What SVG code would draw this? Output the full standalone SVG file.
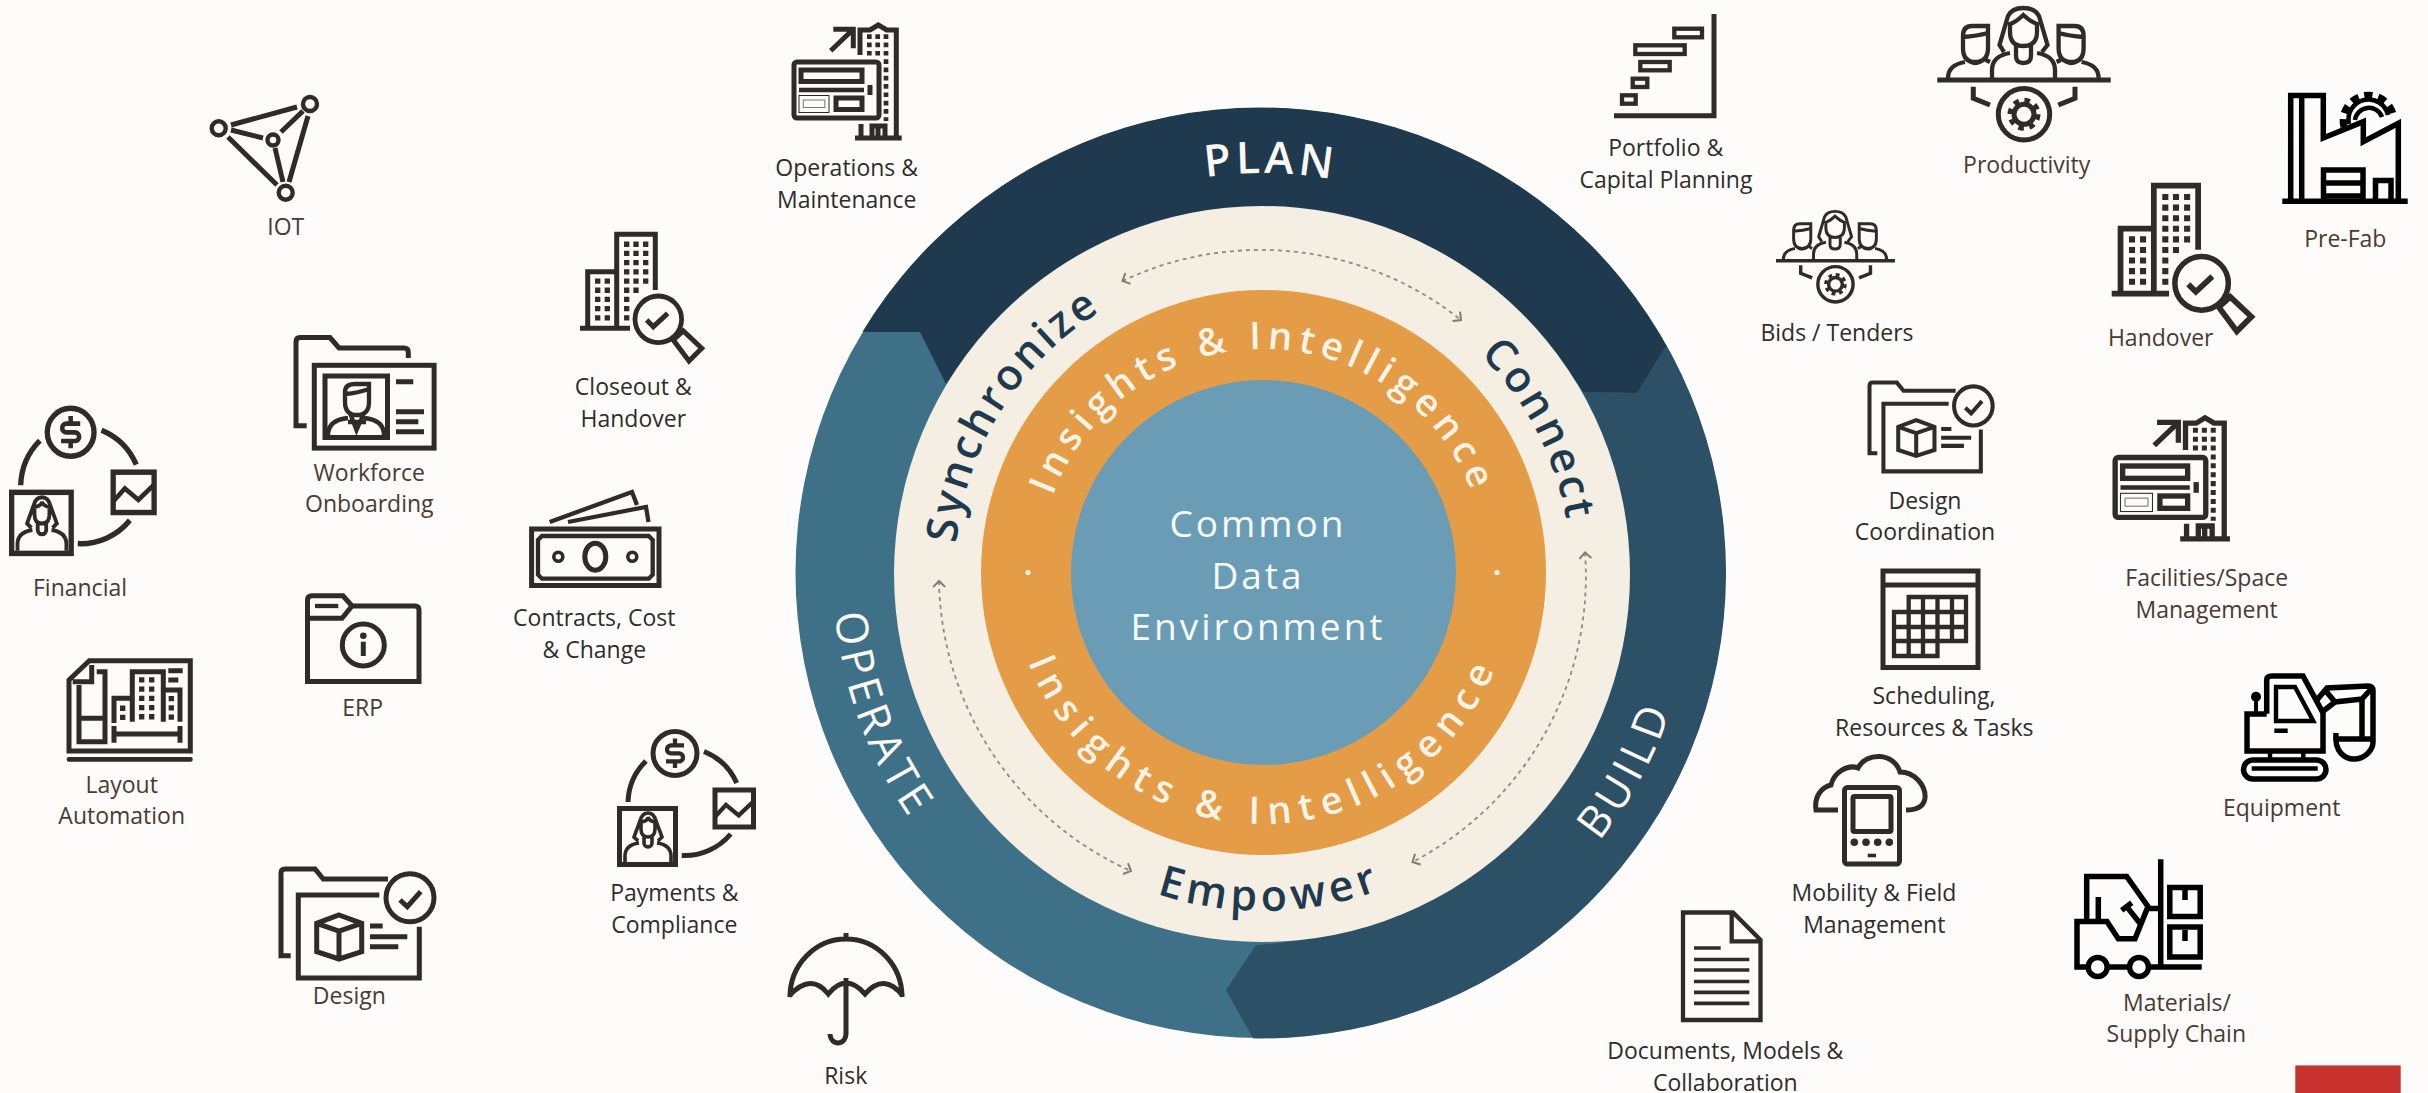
<svg xmlns="http://www.w3.org/2000/svg" xmlns:xlink="http://www.w3.org/1999/xlink" width="2428" height="1093" viewBox="0 0 2428 1093">
<style>
text{font-family:"Open Sans","Noto Sans","DejaVu Sans",sans-serif}
.l{font-size:23px;text-anchor:middle;fill:#2f2d2b}
.b{font-size:23px;text-anchor:middle;fill:#4a3a33}
.i{fill:none;stroke:#2e2b28;stroke-width:5;stroke-linejoin:miter}
.k{fill:none;stroke:#000;stroke-width:5.5}
.s{stroke-width:4.3}
.t{stroke-width:3.6}
.w{stroke-width:5.3;stroke-dasharray:5.3 3.9}
.f{fill:#2e2b28;stroke:none}
.phase{font-size:44px;fill:#fbf8f1;letter-spacing:5px}
.plan{font-size:44px;font-weight:600;fill:#fbf8f1;letter-spacing:4px}
.verb{font-size:43px;font-weight:600;fill:#1f3a4e;letter-spacing:3px}
.emp{font-size:43px;font-weight:600;fill:#1f3a4e;letter-spacing:5px}
.ins{font-size:38px;font-weight:600;fill:#fbf3e6;letter-spacing:6.2px}
.ins2{font-size:38px;font-weight:600;fill:#fbf3e6;letter-spacing:8.8px}
.cde{font-size:37px;fill:#f6fafb;text-anchor:middle;letter-spacing:3px}
.mid{text-anchor:middle}
.dash{fill:none;stroke:#8c8b85;stroke-width:1.8;stroke-dasharray:4 4;marker-start:url(#chev);marker-end:url(#chev)}
</style>
<defs>
<clipPath id="outer"><circle cx="1260.5" cy="573" r="465.5"/></clipPath>
<marker id="chev" markerUnits="userSpaceOnUse" markerWidth="16" markerHeight="16" refX="8" refY="8" orient="auto-start-reverse" viewBox="0 0 16 16"><path d="M2,2 L8,8 L2,14" fill="none" stroke="#7d7c76" stroke-width="2"/></marker>
<path id="pPlan" d="M863,573 A400,400 0 0 1 1663,573"/>
<path id="pVerbT" d="M955,573 A308,308 0 0 1 1571,573"/>
<path id="pInsT" d="M1039,573 A224,224 0 0 1 1487,573"/>
<path id="pInsB" d="M1012,573 A251,251 0 0 0 1514,573"/>
<path id="pEmp" d="M925,573 A338,338 0 0 0 1601,573"/>
<path id="pOuterB" d="M833,573 A430,430 0 0 0 1693,573"/>

<g id="pay">
<circle class="i" cx="58" cy="24.4" r="22"/>
<path class="i s" d="M67,16.4 H54 a4,4 0 0 0 0,8 H62 a4,4 0 0 1 0,8 H49 M58,9.5 V16 M58,33 V39"/>
<path class="i" d="M11,73 A60,60 0 0 1 29,32 M87,22.5 A60,60 0 0 1 119.7,54 M64.7,126.5 A60,60 0 0 0 113.7,105"/>
<rect class="i" x="2.5" y="79.5" width="56" height="56"/>
<rect class="i" x="98" y="61" width="38.5" height="37"/>
<path class="i s" d="M98.3,87.5 L109,75.9 L121.7,86.3 L136.4,72.5"/>
<path class="i t" d="M21,112 L17,108 L23,92 Q25,84 31,84 Q37,84 39,92 L45,108 L41,112 M24,93 Q31,92 31,88 Q32,92 38,93 V100 Q38,108 31,108 Q24,108 24,100 Z M27,108 V114 a4,4 0 0 0 8,0 V108 M8,133 V127 Q8,116 22,114 M54,133 V127 Q54,116 40,114"/>
</g>

<g id="design">
<path class="i" d="M290.7,955.7 H281 V873 Q281,869 285,869 H315 L323.3,879 H388"/>
<path class="i" d="M379.3,895 H298.3 V978 H419.3 V926.7"/>
<circle class="i" cx="410" cy="897.7" r="24"/>
<path class="i" stroke-width="5.5" d="M400,900 L407.3,906.7 L420.7,891.7"/>
<path class="i" d="M339,915 L361.7,923.3 V951.7 L339,959 L316.7,951.7 V923.3 Z M316.7,923.3 L339,931 L361.7,923.3 M339,931 V959"/>
<path class="i" d="M370,926 H382.7 M370,936.7 H407.3 M370,946.7 H398.3"/>
</g>

<g id="ops">
<path class="i" d="M860,55 V30 H870 L878.3,25 L886.7,30 H896.3 V138"/>
<path class="i" d="M855,138 H901.7 M861,124 V138 M872,138 V126 H885 V138 M878,128 V138"/>
<path class="i w" style="stroke-width:4.7;stroke-dasharray:4.7 3.6" d="M869.3,34.3 V57 M877.7,34.3 V57 M886,34.3 V121"/>
<rect class="i" x="794" y="62" width="85" height="56" rx="3"/>
<rect class="i" x="801" y="70" width="61" height="11.5"/>
<path class="i s" d="M799,90 H864"/>
<path class="i" d="M870,85 V95"/>
<rect x="799" y="95.5" width="30" height="17" fill="none" stroke="#2e2b28" stroke-width="1"/>
<rect x="803.3" y="100" width="21.5" height="7.5" fill="none" stroke="#777" stroke-width="1"/>
<rect class="i" x="836" y="98" width="26" height="11.5"/>
<path class="i" d="M830.7,50.7 L853.3,29.3 M833.3,29.3 H853.3 V48.3"/>
</g>

<g id="bldg">
<path class="i" d="M616.7,328 V234.3 H655.3 V290 M587.7,328 V271.7 H616.7"/>
<path class="i" d="M580,328.3 H630"/>
<path class="i w" d="M626.7,241.6 V322 M636,241.6 V294 M645.7,241.6 V285 M597.7,278.4 V322 M607.3,278.4 V322"/>
<circle cx="658.3" cy="319.3" r="23.3" fill="#fdfcfa" stroke="#2e2b28" stroke-width="4.8"/>
<path class="i" d="M646.7,320 L653.3,326.7 L667.7,313.3"/>
<path class="i" d="M673.3,340 L683.3,331 L701.7,348.3 L689,361 Z"/>
</g>

<g id="male">
<path class="i s" d="M1963,49 V36 Q1963,26 1972,26 H1988 V48 Q1988,62 1975,62 Q1963,62 1963,48 M1963,37 Q1977,36 1988,33 M1966,58 Q1975,68 1985,58 M1948,78 Q1948,65 1965,62 M1986,60 L1990,62"/>
</g>
<g id="team">
<path class="i" d="M1937.3,80 H2110.7"/>
<circle class="i" cx="2024" cy="114.3" r="25.7"/>
<circle class="i" cx="2024" cy="114.3" r="10" stroke-width="6"/>
<circle class="i" cx="2024" cy="114.3" r="14" style="stroke-width:5;stroke-dasharray:5.5 5.5"/>
<path class="i" d="M1973.3,86.7 V98.3 L1990,105 M2075,86.7 V98.3 L2058.3,105"/>
<path class="i s" d="M2004,52 L1999.5,45 L2008,16 Q2012,8 2023.3,8 Q2035,8 2039,16 L2047.5,45 L2042,52 M2010,24 Q2016,22 2023.3,15 Q2031,22 2037,24 V32 Q2037,46 2023.3,46 Q2010,46 2010,32 Z M2016,46 V56 Q2016,63 2023.3,63 Q2031,63 2031,56 V46 M1992,78 V70 Q1992,56 2010,53 M2055,78 V70 Q2055,56 2037,53"/>
<use href="#male"/>
<use href="#male" transform="translate(4046.6,0) scale(-1,1)"/>
</g>
</defs>

<rect width="2428" height="1093" fill="#fdfcfa"/>

<g id="wheel">
<circle cx="1260.5" cy="573" r="465" fill="#3e7088"/>
<g clip-path="url(#outer)">
<path fill="#2c5066" d="M1664,349 L1785,282 H1900 V1200 H1250 L1253,1038 L1226,990 L1256,945 A385,385 0 0 0 1583,392 L1637,393 Z"/>
<path fill="#1f3a4e" d="M864,332 L745,260 V-50 H1785 V282 L1664,349 L1637,393 L1583,392 A385,385 0 0 0 946,384 L920,332 Z"/>
</g>
<circle cx="1262" cy="574" r="368" fill="#f4efe2"/>
<circle cx="1263.5" cy="572.5" r="282.5" fill="#e49c47"/>
<circle cx="1263.5" cy="572.5" r="192.5" fill="#6a9db5"/>
<circle cx="1028" cy="572.5" r="2.6" fill="#fbf3e6"/>
<circle cx="1497" cy="572.5" r="2.6" fill="#fbf3e6"/>
<text class="plan mid"><textPath href="#pPlan" startOffset="50.6%">PLAN</textPath></text>
<text class="phase mid"><textPath href="#pOuterB" startOffset="11.3%">OPERATE</textPath></text>
<text class="phase mid"><textPath href="#pOuterB" startOffset="84.2%">BUILD</textPath></text>
<text class="verb mid"><textPath href="#pVerbT" startOffset="17.8%">Synchronize</textPath></text>
<text class="verb mid"><textPath href="#pVerbT" startOffset="84.8%">Connect</textPath></text>
<text class="emp mid"><textPath href="#pEmp" startOffset="50.7%">Empower</textPath></text>
<text class="ins mid"><textPath href="#pInsT" startOffset="50%">Insights &amp; Intelligence</textPath></text>
<text class="ins2 mid"><textPath href="#pInsB" startOffset="50%">Insights &amp; Intelligence</textPath></text>
<text class="cde" x="1258" y="537">Common</text>
<text class="cde" x="1258" y="589">Data</text>
<text class="cde" x="1258" y="640">Environment</text>
</g>

<g id="connectors">
<path class="dash" d="M1122.5,281 A322,322 0 0 1 1461,320"/>
<path class="dash" d="M1585,552.5 A322,322 0 0 1 1412.5,862"/>
<path class="dash" d="M939,581 A324,324 0 0 0 1131,871"/>
</g>

<g id="iot">
<g class="i" style="stroke-width:4.4"><circle cx="218.7" cy="128.3" r="7"/><circle cx="310" cy="104" r="7"/><circle cx="273" cy="140" r="5.5"/><circle cx="285.7" cy="192.7" r="7"/></g>
<path class="i" d="M231,125 L297,107 M231,130 L263,138 M228,137 L277,185 M281,132 L303,111 M275,148 L283,182 M308,116 L289,182"/>
<text class="b" x="285.7" y="235">IOT</text>
</g>

<g id="workforce">
<path class="i" d="M306.7,425.7 H296 V342 Q296,337.5 300,337.5 H330 L339,348 H404 Q408.3,348 408.3,352 V358"/>
<rect class="i" x="314.3" y="365.3" width="119.8" height="82.8" stroke-width="5.3"/>
<rect class="i" x="325" y="376" width="62.5" height="61.5"/>
<path class="i" d="M396,381.7 H413.3 M396,411.7 H424 M396,421.7 H418.3 M396,431.7 H424"/>
<path class="i s" d="M345,394 V392 Q345,384 355,384 H369 V402 Q369,415 357,415 Q345,415 345,402 V394 Q358,393 369,389 M350,413 L356.5,430 L364,413 M348,422 H366 M328,435 Q328,420 348,418 M384,435 Q384,420 364,418"/>
<text class="b" x="369.3" y="480.7">Workforce</text>
<text class="b" x="369.3" y="511.7">Onboarding</text>
</g>

<g id="financial">
<use href="#pay" transform="translate(9,405.7) scale(1.063,1.09)"/>
<text class="b" x="80" y="596">Financial</text>
</g>

<g id="erp">
<path class="i" d="M307.5,681.5 H419 V610 Q419,606 415,606 H352 L343,595.8 H312 Q307.5,595.8 307.5,600 Z M307.5,618.3 H342 L352,606"/>
<path class="i s" d="M315,606 H338.3"/>
<circle class="i" cx="363.3" cy="645" r="21"/>
<circle class="f" cx="363.3" cy="635.7" r="3.3"/>
<path class="i" d="M363.3,641.7 V656"/>
<text class="b" x="362.7" y="715.7">ERP</text>
</g>

<g id="layout">
<path class="i" d="M69,680 L89.3,660.7 H190.3 V751 H69 Z M72.7,681.7 H91.7 V665 M96.7,671.7 H105 V741.7 H79 V685 M79,718.3 H105 M132.3,721.7 V671.7 H163.3 V721.7 M114,723 V698.3 H132 M163,690 H180 V721.7 M168.3,670.7 H182.7 M168.3,680 H178.3 M114,726 V742.7 M180,726 V742.7 M114,734 H180"/>
<path class="i w" d="M141.7,677.3 V720 M151.7,677.3 V720 M122.7,705.6 V720 M171.3,696 V720"/>
<rect x="66.7" y="757" width="126" height="4.7" rx="2" class="f"/>
<text class="b" x="121.7" y="792.7">Layout</text>
<text class="b" x="121.7" y="824.3">Automation</text>
</g>

<g id="design-node">
<use href="#design"/>
<text class="b" x="349.3" y="1004.3">Design</text>
</g>

<g id="operations">
<use href="#ops"/>
<text class="l" x="846.7" y="176">Operations &amp;</text>
<text class="l" x="846.7" y="207.5">Maintenance</text>
</g>

<g id="closeout">
<use href="#bldg"/>
<text class="l" x="633.3" y="395">Closeout &amp;</text>
<text class="l" x="633.3" y="426.7">Handover</text>
</g>

<g id="contracts">
<rect class="i" x="531.6" y="529" width="127.4" height="56.5"/>
<path class="i s" d="M542,536 H648.7 L652.7,540 V574.7 L648.7,578.7 H542 L538,574.7 V540 Z"/>
<ellipse class="i" cx="595.3" cy="556.7" rx="10.5" ry="13.5"/>
<circle class="i t" cx="558.3" cy="556.7" r="4.5"/>
<circle class="i t" cx="632.3" cy="556.7" r="4.5"/>
<path class="i s" d="M549.7,522 L632,492 L637,505 M568,522 L646,507 L648.5,522"/>
<text class="l" x="594.3" y="626">Contracts, Cost</text>
<text class="l" x="594.3" y="657.7">&amp; Change</text>
</g>

<g id="payments">
<use href="#pay" transform="translate(617,729)"/>
<text class="l" x="674.3" y="901">Payments &amp;</text>
<text class="l" x="674.3" y="933">Compliance</text>
</g>

<g id="risk">
<path class="i" d="M790,997 A56,58 0 0 1 902,997 M846,933 V940 M789,996 Q811,972 828.3,994 Q846,972 865,994 Q884,972 903,996 M846,978 V1034 A8,9 0 0 1 830,1034"/>
<text class="l" x="845.7" y="1083.6">Risk</text>
</g>

<g id="portfolio">
<path class="i" d="M1714,14 V115.7 H1614"/>
<g class="i s"><rect x="1674.3" y="28.7" width="27.7" height="8.6"/><rect x="1635.3" y="45.3" width="49.4" height="8.7"/><rect x="1640.3" y="62" width="29.4" height="8.3"/><rect x="1632.7" y="78.7" width="14.6" height="8.3"/><rect x="1622" y="95.3" width="13.7" height="8.4"/></g>
<text class="l" x="1665.7" y="155.7">Portfolio &amp;</text>
<text class="l" x="1666" y="187.7">Capital Planning</text>
</g>

<g id="productivity">
<use href="#team"/>
<text class="b" x="2026.7" y="173">Productivity</text>
</g>

<g id="bids">
<use href="#team" transform="translate(1776,209.3) scale(.686) translate(-1937.3,-5)"/>
<text class="l" x="1837" y="340.7">Bids / Tenders</text>
</g>

<g id="prefab">
<path class="k" d="M2282.3,201.3 H2407.7 M2290.7,200 V95.5 H2323.3 V138 L2363.3,121.7 V141.7 L2398.3,123.3 V200 M2301.7,95 V200"/>
<path class="k" d="M2323.5,200 V170 H2363 V200 M2325,183 H2363 M2325,196 H2363 M2375.5,200 V180.5 H2391 V200"/>
<path fill="none" stroke="#000" stroke-width="7" stroke-dasharray="8 6" d="M2344,127 A24.8,24.8 0 0 1 2393,114"/>
<path fill="none" stroke="#000" stroke-width="4.5" d="M2349,124 A19.5,19.5 0 0 1 2388,115"/>
<path fill="none" stroke="#000" stroke-width="4.5" d="M2355,120 A14,14 0 0 1 2382,117"/>
<text class="b" x="2345.3" y="246.7">Pre-Fab</text>
</g>

<g id="handover">
<use href="#bldg" transform="translate(2111.7,183.3) scale(1.148,1.15) translate(-580,-232.3)"/>
<text class="b" x="2160.7" y="345.7">Handover</text>
</g>

<g id="design-coordination">
<use href="#design" transform="translate(1868.7,380.7) scale(.805,.815) translate(-280,-866.7)"/>
<text class="l" x="1925" y="509">Design</text>
<text class="l" x="1925" y="539.7">Coordination</text>
</g>

<g id="facilities">
<use href="#ops" transform="translate(2112.7,416) scale(1.066,1.071) translate(-791.7,-23.3)"/>
<text class="b" x="2206.7" y="586.2">Facilities/Space</text>
<text class="b" x="2206.7" y="618">Management</text>
</g>

<g id="scheduling">
<rect class="i" x="1883" y="571" width="95" height="96.5"/>
<path class="i" d="M1883,585 H1978"/>
<path class="i s" d="M1908.7,612 V597 H1966 V641 H1937.5 V656 H1894 V612 H1966 M1894,627 H1966 M1894,641 H1937.5 M1923,597 V656 M1937.5,597 V641 M1952,597 V641 M1908.7,612 V656"/>
<text class="l" x="1934" y="704">Scheduling,</text>
<text class="l" x="1934.3" y="735.7">Resources &amp; Tasks</text>
</g>

<g id="mobility">
<rect class="i" x="1844.5" y="787.5" width="55" height="76.5" rx="3"/>
<rect class="i" x="1853" y="796.5" width="38" height="35" rx="1.5"/>
<g class="f"><circle cx="1854.3" cy="842.3" r="3.8"/><circle cx="1866" cy="842.3" r="3.8"/><circle cx="1877.7" cy="842.3" r="3.8"/><circle cx="1889.3" cy="842.3" r="3.8"/></g>
<path class="i t" d="M1867.7,855.5 H1876"/>
<path class="i" d="M1838,810 H1816 C1814,796 1822,787 1831,785 C1834,772 1848,764 1858,768 C1866,752 1894,752 1900,772 C1915,772 1926,786 1925,798 C1924,806 1917,810 1906,810"/>
<text class="l" x="1874" y="901">Mobility &amp; Field</text>
<text class="l" x="1874.3" y="933">Management</text>
</g>

<g id="documents">
<path class="i s" d="M1683,1020 V912.5 H1733 L1760.5,940 V1020 Z M1731.7,914 V941.4 H1760"/>
<path class="i t" d="M1694,948 H1720.7 M1694,959.5 H1749.3 M1694,970 H1749.3 M1694,981.5 H1749.3 M1694,992.4 H1749.3 M1694,1003.4 H1749.3"/>
<text class="l" x="1725.3" y="1059">Documents, Models &amp;</text>
<text class="l" x="1725.3" y="1090.8">Collaboration</text>
</g>

<g id="equipment">
<path class="k" d="M2266.7,713.7 V680 Q2266.7,676 2272,676 H2303 L2323,713 V751 H2247 V714 H2266.7"/>
<path class="k" style="stroke-width:4.4" d="M2276,687 H2295 L2313.3,721 H2276 Z M2274.3,730.7 H2287.7"/>
<circle cx="2256" cy="696.7" r="5" fill="#000"/>
<path class="k" style="stroke-width:4" d="M2256,697 V713"/>
<rect class="k" x="2243.5" y="760" width="82.5" height="19" rx="9.5"/>
<path class="k" style="stroke-width:4.4" d="M2251.7,768.5 H2317.7 M2270,751 V760 M2303.3,751 V760"/>
<path class="k" d="M2316,701 L2327,688 L2368,686 Q2373,686 2373,691 V742 M2322,712 L2335,702 L2362,699 V739 M2362,699 L2372,688 M2325,690 L2335,702 M2335,739 H2373 M2336,733 C2334,752 2345,759 2354,759 C2365,759 2373,750 2373,742"/>
<text class="b" x="2281.7" y="815.8">Equipment</text>
</g>

<g id="materials">
<path class="k" d="M2160.7,859.3 V969 M2108,967 H2128 M2150,967 H2201.7 M2087,967 H2077 V921.5 H2107 L2118.3,938.7 H2135 L2148,906.5 L2126.7,876.5 H2086.7 V920 M2098.3,897 V920 M2148,908.5 H2160"/>
<path class="k" d="M2121.7,910.4 L2131.7,902.8 M2126.7,906.6 L2141.7,925.5"/>
<circle class="k" cx="2097.7" cy="967" r="9.5" style="fill:#fdfcfa"/>
<circle class="k" cx="2139" cy="967" r="9.5" style="fill:#fdfcfa"/>
<rect class="k" x="2169.8" y="887.5" width="30.4" height="29"/>
<rect class="k" x="2169.8" y="927" width="30.4" height="30"/>
<path class="k" d="M2185,890 V900 M2185,930 V941"/>
<text class="b" x="2177" y="1010.6">Materials/</text>
<text class="b" x="2176.3" y="1042">Supply Chain</text>
</g>

<rect id="red-block" x="2295.3" y="1065.4" width="105.4" height="27.6" fill="#c8332f"/>
</svg>
